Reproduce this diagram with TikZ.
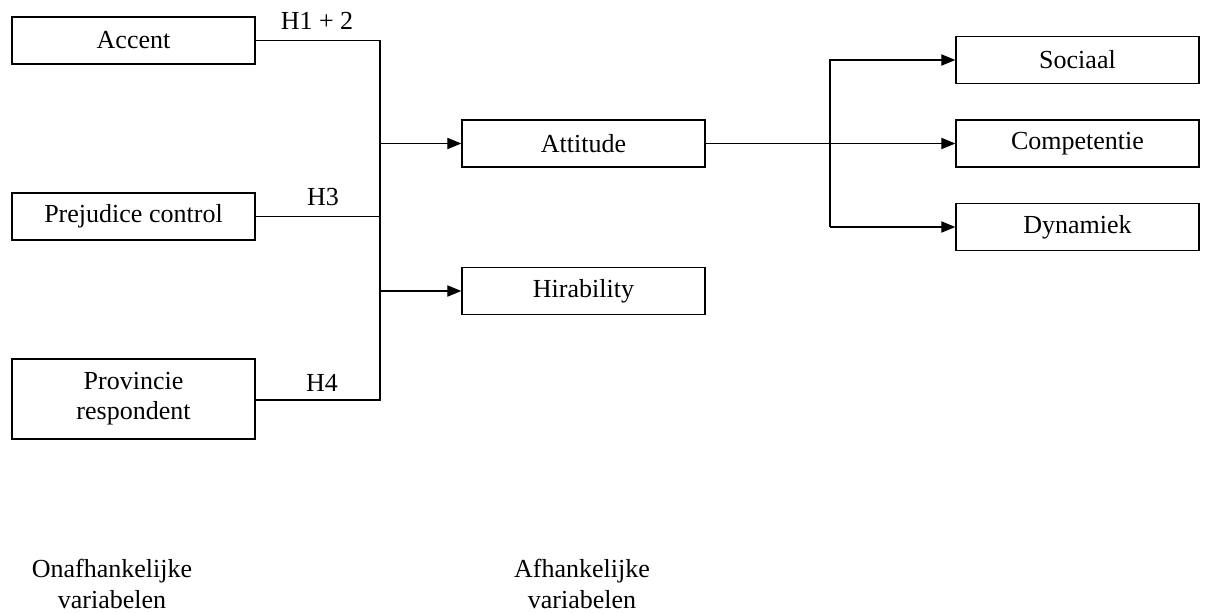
\documentclass[tikz,border=0pt]{standalone}
\usepackage{fontspec}
\setmainfont{Liberation Serif}
\usetikzlibrary{arrows.meta,positioning,calc}

\begin{document}
\begin{tikzpicture}[
  x=0.025cm, y=-0.025cm,
  every node/.style={font=\fontsize{18.5}{21.5}\selectfont},
  var/.style={draw, line width=0.9pt, minimum width=6.075cm, minimum height=1.175cm, inner sep=0pt, align=center},
  arr/.style={-{Triangle[length=10pt,width=8pt]}},
  every path/.style={line width=0.9pt},
]
  \useasboundingbox (0,0) rectangle (1206,613);

  % onafhankelijke variabelen
  \node[var] (accent) at (133.5, 40.5) {Accent};
  \node[var] (prej) at (133.5, 216.5) {Prejudice control};
  \node[var, minimum height=2cm] (prov) at (133.5, 399) {Provincie\\respondent};

  % afhankelijke variabelen
  \node[var] (att) at (583.5, 143.5) {Attitude};
  \node[var] (hir) at (583.5, 291) {Hirability};

  \node[var] (soc) at (1077.5, 60) {Sociaal};
  \node[var] (comp) at (1077.5, 143.5) {Competentie};
  \node[var] (dyn) at (1077.5, 227) {Dynamiek};

  \coordinate (bus) at (380, 400);
  \coordinate (split) at (830, 227);

  \draw (accent.east) -| (bus) -- (prov.east |- bus);
  \draw (prej.east) -- (prej.east -| bus);
  \draw[arr] (att.west -| bus) -- (att.west);
  \draw[arr] (hir.west -| bus) -- (hir.west);

  \draw[arr] (att.east) -- (comp.west);
  \draw[arr] (split) |- (soc.west);
  \draw[arr] (split) -- (dyn.west);

  \node (h12) at (317, 21) {H1 + 2};
  \node (h3) at (323, 197) {H3};
  \node (h4) at (322, 383) {H4};

  \node[align=center] (onafh) at (112, 584) {Onafhankelijke\\variabelen};
  \node[align=center] (afh) at (582, 584) {Afhankelijke\\variabelen};
\end{tikzpicture}
\end{document}
